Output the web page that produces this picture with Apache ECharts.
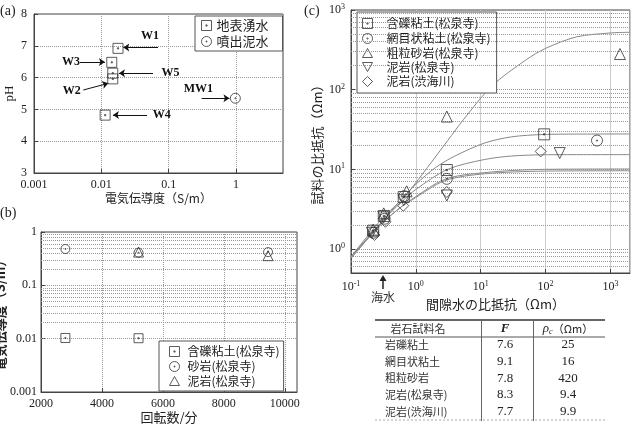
<!DOCTYPE html>
<html>
<head>
<meta charset="utf-8">
<script src="https://cdn.jsdelivr.net/npm/echarts@6/dist/echarts.min.js"></script>
<style>html,body{margin:0;padding:0;background:#fff}#main{width:633px;height:424px}</style>
</head>
<body>
<div id="main"></div>
<script>
// (a) 地表湧水 / 噴出泥水
var springNames = ['W1', 'W3', 'W5', 'W2', 'W4'];
var springEC = [0.0177, 0.0143, 0.0148, 0.0148, 0.0114];
var springPH = [6.92, 6.48, 6.14, 5.96, 4.82];
var mudEC = [0.98];
var mudPH = [5.35];

// (b) 回転数 vs 電気伝導度
var bClayRpm = [2800, 5200];
var bClayEC = [0.0103, 0.0102];
var bSandRpm = [2800, 5200, 9450];
var bSandEC = [0.48, 0.41, 0.42];
var bMudRpm = [5200, 9450];
var bMudEC = [0.42, 0.36];

// (c) 間隙水の比抵抗 vs 試料の比抵抗
var cClayX = [0.22, 0.32, 0.65, 3, 95];
var cClayY = [1.7, 2.6, 4.5, 9.8, 27.5];
var cNetX = [0.22, 0.33, 0.66, 3, 620];
var cNetY = [1.6, 2.4, 4.6, 7.6, 23];
var cSandX = [0.22, 0.32, 0.72, 3, 1400];
var cSandY = [1.75, 2.8, 5.3, 46, 280];
var cMudX = [0.21, 0.32, 0.65, 3, 165];
var cMudY = [1.6, 2.5, 4.1, 4.7, 16];
var cMud2X = [0.23, 0.34, 0.64, 3, 84];
var cMud2Y = [1.5, 2.2, 3.5, 5.2, 16.8];

// fitted curves
var fitSand = [[0.1,0.8],[0.3,2.4],[0.68,4.6],[1.5,10.5],[3.1,23],[5.4,42],[15,112],[50,237],[100,330],[300,460],[1000,515],[2000,525]];
var fitClay = [[0.1,0.76],[0.3,2.2],[0.6,4.2],[1,6.5],[2,10.5],[4,14.7],[11.5,21.4],[30,25.6],[94,27.4],[300,27.7],[2000,27.8]];
var fitNet = [[0.1,0.8],[0.3,2.2],[0.6,3.9],[1,5.6],[3.1,10],[11.5,13.3],[30,14.7],[81,15.2],[300,15.3],[2000,15.3]];
var fitMud = [[0.1,0.77],[0.3,2.1],[0.6,3.4],[0.86,4.2],[2.8,7.5],[11.5,9.1],[97,10],[2000,10.1]];
var fitMud2 = [[0.1,0.8],[0.3,2.1],[0.6,3.4],[0.86,4.1],[2.8,7.2],[11.5,8.8],[97,9.5],[2000,9.6]];

// table
var tableRows = ['岩礫粘土', '網目状粘土', '粗粒砂岩', '泥岩(松泉寺)', '泥岩(渋海川)'];
var tableF = ['7.6', '9.1', '7.8', '8.3', '7.7'];
var tableRhoC = ['25', '16', '420', '9.4', '9.9'];

var SERIF = 'Liberation Serif';
var CJK = 'Noto Sans CJK JP';
var SQ = 'path://M0,0L10,0L10,10L0,10Z M4.4,4.4L5.6,4.4L5.6,5.6L4.4,5.6Z';
var CI = 'path://M5,0A5,5 0 1 1 5,10A5,5 0 1 1 5,0Z M5,4.4A0.6,0.6 0 1 1 5,5.6A0.6,0.6 0 1 1 5,4.4Z';
var TU = 'path://M5,0L10,9L0,9Z';
var TD = 'path://M0,0L10,0L5,9Z';
var DI = 'path://M5,0L10,5L5,10L0,5Z';

function zip(xs, ys) { return xs.map(function (x, i) { return [x, ys[i]]; }); }
function minors(lo, hi) {
    var out = [];
    for (var d = lo; d < hi; d *= 10) for (var m = 2; m <= 9; m++) out.push({ yAxis: +(m * d).toPrecision(3) });
    return out;
}
var mkStyle = { color: 'none', borderColor: '#333', borderWidth: 1 };
var dotted = { type: 'dotted', color: '#999', width: 1 };

function pts(name, xi, sym, data, size) {
    return { type: 'scatter', name: name, xAxisIndex: xi, yAxisIndex: xi, symbol: sym, symbolSize: size || 10,
        data: data, itemStyle: mkStyle, z: 5 };
}
function fit(data) {
    return { type: 'line', xAxisIndex: 2, yAxisIndex: 2, data: data, smooth: 0.3, showSymbol: false, silent: true,
        lineStyle: { color: '#888', width: 1 }, z: 3 };
}
function gridLines(xi, lines) {
    return { type: 'line', xAxisIndex: xi, yAxisIndex: xi, data: [], silent: true,
        markLine: { silent: true, symbol: ['none', 'none'], label: { show: false }, animation: false,
            lineStyle: dotted, data: lines } };
}
function arrow(x1, y1, x2, y2) { return [{ coord: [x1, y1] }, { coord: [x2, y2] }]; }
function tag(name, x, y) { return { name: name, coord: [x, y] }; }

var axisLbl = { fontFamily: SERIF, fontSize: 12, color: '#222' };
var nameTxt = { fontFamily: CJK, fontSize: 12, color: '#222' };
var ax = { lineStyle: { color: '#444' } };
var tick = { inside: true, length: 4, lineStyle: { color: '#444' } };
function expFmt(v) { return '{b|10}{s|' + Math.round(Math.log10(v)) + '}'; }
var expRich = { b: { fontFamily: SERIF, fontSize: 12, color: '#222' }, s: { fontFamily: SERIF, fontSize: 8, color: '#222', verticalAlign: 'top', padding: [0, 0, 6, 0] } };

var legendBase = { orient: 'vertical', itemWidth: 10, itemHeight: 10, borderColor: '#555', borderWidth: 1,
    backgroundColor: '#fff', borderRadius: 0, itemStyle: mkStyle, selectedMode: false };

var tableG = [];
var ty = [345, 361.7, 378.3, 395, 411.7];
tableG.push({ type: 'line', shape: { x1: 375, y1: 320, x2: 605, y2: 320 }, style: { stroke: '#333', lineWidth: 1.5 } });
tableG.push({ type: 'line', shape: { x1: 375, y1: 337, x2: 605, y2: 337 }, style: { stroke: '#555', lineWidth: 1 } });
tableG.push({ type: 'line', shape: { x1: 375, y1: 420, x2: 605, y2: 420 }, style: { stroke: '#aaa', lineWidth: 1, lineDash: [2, 2] } });
tableG.push({ type: 'line', shape: { x1: 481.5, y1: 320, x2: 481.5, y2: 421 }, style: { stroke: '#666', lineWidth: 1 } });
tableG.push({ type: 'line', shape: { x1: 533.5, y1: 320, x2: 533.5, y2: 421 }, style: { stroke: '#666', lineWidth: 1 } });
tableG.push({ type: 'text', x: 418, y: 329, style: { text: '岩石試料名', font: '11px "Noto Sans CJK JP"', fill: '#333', align: 'center', verticalAlign: 'middle' } });
tableG.push({ type: 'text', x: 505, y: 329, style: { text: 'F', font: 'italic bold 13px "Liberation Serif"', fill: '#222', align: 'center', verticalAlign: 'middle' } });
tableG.push({ type: 'text', x: 568, y: 329, style: { text: '{i|ρ}{s|c}{t|（Ωm）}', align: 'center', verticalAlign: 'middle',
    rich: { i: { font: 'italic 13px "Liberation Serif"', fill: '#222' }, s: { font: 'italic 8px "Liberation Serif"', fill: '#222', verticalAlign: 'bottom', padding: [6, 0, 0, 0] }, t: { font: '11px "Noto Sans CJK JP"', fill: '#222' } } } });
tableRows.forEach(function (r, i) {
    tableG.push({ type: 'text', x: 385, y: ty[i], style: { text: r, font: '11px "Noto Sans CJK JP"', fill: '#333', align: 'left', verticalAlign: 'middle' } });
    tableG.push({ type: 'text', x: 505, y: ty[i], style: { text: tableF[i], font: '13px "Liberation Serif"', fill: '#222', align: 'center', verticalAlign: 'middle' } });
    tableG.push({ type: 'text', x: 568, y: ty[i], style: { text: tableRhoC[i], font: '13px "Liberation Serif"', fill: '#222', align: 'center', verticalAlign: 'middle' } });
});

var myChart = echarts.init(document.getElementById('main'));
var option = {
    backgroundColor: '#fff',
    animation: false,
    grid: [
        { left: 34, top: 14, width: 249, height: 159, show: true, borderColor: '#444', borderWidth: 1, outerBoundsMode: 'none' },
        { left: 41, top: 232, width: 256, height: 160, show: true, borderColor: '#444', borderWidth: 1, outerBoundsMode: 'none' },
        { left: 351, top: 10, width: 279, height: 263, show: true, borderColor: '#444', borderWidth: 1, outerBoundsMode: 'none' }
    ],
    xAxis: [
        { gridIndex: 0, type: 'log', min: 0.001, max: 5, axisLine: ax, axisTick: tick,
          axisLabel: Object.assign({ showMaxLabel: false, margin: 6, formatter: function (v) { return String(+v.toPrecision(1)); } }, axisLbl),
          splitLine: { show: true, lineStyle: dotted },
          name: '電気伝導度（S/m）', nameLocation: 'middle', nameGap: 19, nameTextStyle: nameTxt },
        { gridIndex: 1, type: 'value', min: 2000, max: 10400, interval: 2000, axisLine: ax, axisTick: tick,
          axisLabel: Object.assign({ showMaxLabel: false, margin: 6, formatter: function (v) { return String(v); } }, axisLbl),
          splitLine: { show: true, lineStyle: dotted },
          name: '回転数/分', nameLocation: 'middle', nameGap: 16, nameTextStyle: Object.assign({}, nameTxt, { fontSize: 13 }) },
        { gridIndex: 2, type: 'log', min: 0.1, max: 2000, axisLine: ax, axisTick: tick,
          axisLabel: { showMaxLabel: false, margin: 7, formatter: expFmt, rich: expRich },
          splitLine: { show: true, lineStyle: { color: '#ccc', width: 1 } },
          name: '間隙水の比抵抗（Ωm）', nameLocation: 'middle', nameGap: 22, nameTextStyle: Object.assign({}, nameTxt, { fontSize: 13, padding: [0, 0, 0, 10] }) }
    ],
    yAxis: [
        { gridIndex: 0, type: 'value', min: 3, max: 8, interval: 1, axisLine: ax, axisTick: tick,
          axisLabel: Object.assign({ margin: 7 }, axisLbl), splitLine: { show: true, lineStyle: dotted },
          name: 'pH', nameLocation: 'middle', nameGap: 18, nameTextStyle: { fontFamily: SERIF, fontSize: 13, color: '#222' } },
        { gridIndex: 1, type: 'log', min: 0.001, max: 1, axisLine: ax, axisTick: tick,
          axisLabel: Object.assign({ margin: 4, formatter: function (v) { return String(+v.toPrecision(1)); } }, axisLbl),
          splitLine: { show: true, lineStyle: dotted },
          name: '電気伝導度（S/m）', nameLocation: 'middle', nameGap: 25, nameTextStyle: Object.assign({}, nameTxt, { fontSize: 13, fontWeight: 'bold' }) },
        { gridIndex: 2, type: 'log', min: 0.5, max: 1000, axisLine: ax, axisTick: tick,
          axisLabel: { showMinLabel: false, margin: 6, formatter: expFmt, rich: expRich },
          splitLine: { show: true, lineStyle: dotted },
          name: '試料の比抵抗（Ωm）', nameLocation: 'middle', nameGap: 27, nameTextStyle: Object.assign({}, nameTxt, { fontSize: 13 }) }
    ],
    legend: [
        Object.assign({}, legendBase, { left: 195, top: 16, padding: [2, 14, 2, 4], itemGap: 1,
            textStyle: { fontFamily: CJK, fontSize: 13, lineHeight: 15, color: '#222' },
            data: [{ name: '地表湧水', icon: SQ }, { name: '噴出泥水', icon: CI }] }),
        Object.assign({}, legendBase, { left: 159, top: 341, padding: [3, 4, 3, 8], itemGap: 0,
            textStyle: { fontFamily: CJK, fontSize: 12, lineHeight: 14, color: '#222', padding: [0, 0, 0, 3] },
            data: [{ name: '含礫粘土(松泉寺)', icon: SQ }, { name: '砂岩(松泉寺)', icon: CI }, { name: '泥岩(松泉寺)', icon: TU }] }),
        Object.assign({}, legendBase, { left: 357, top: 12, padding: [4, 6, 4, 3], itemGap: 0,
            textStyle: { fontFamily: CJK, fontSize: 12, lineHeight: 14, color: '#222', padding: [0, 0, 0, 9] },
            data: [{ name: '含礫粘土(松泉寺)', icon: SQ }, { name: '網目状粘土(松泉寺)', icon: CI }, { name: '粗粒砂岩(松泉寺)', icon: TU },
                   { name: '泥岩(松泉寺)', icon: TD }, { name: '泥岩(渋海川)', icon: DI }] })
    ],
    graphic: [
        { type: 'text', left: 0, top: 4, style: { text: '(a)', font: '14px "Liberation Serif"', fill: '#222' } },
        { type: 'text', left: 0, top: 206, style: { text: '(b)', font: '14px "Liberation Serif"', fill: '#222' } },
        { type: 'text', left: 304, top: 4, style: { text: '(c)', font: '14px "Liberation Serif"', fill: '#222' } },
        { type: 'line', shape: { x1: 383, y1: 289, x2: 383, y2: 279 }, style: { stroke: '#222', lineWidth: 1.5 } },
        { type: 'polygon', shape: { points: [[379.5, 281], [386.5, 281], [383, 275]] }, style: { fill: '#222' } },
        { type: 'text', x: 383, y: 297, style: { text: '海水', font: '12px "Noto Sans CJK JP"', fill: '#333', align: 'center', verticalAlign: 'middle' } },
        { type: 'group', children: tableG }
    ],
    series: [
        Object.assign(pts('地表湧水', 0, SQ, zip(springEC, springPH), 10), {
            markLine: { silent: true, symbol: ['none', 'arrow'], symbolSize: 6, animation: false, label: { show: false },
                lineStyle: { color: '#111', width: 1, type: 'solid' },
                data: [arrow(0.0696, 6.95, 0.0212, 6.95), arrow(0.00483, 6.49, 0.0113, 6.49), arrow(0.0586, 6.14, 0.0183, 6.14),
                       arrow(0.0054, 5.61, 0.0127, 5.82), arrow(0.0478, 4.82, 0.0149, 4.82)] },
            markPoint: { silent: true, symbol: 'circle', symbolSize: 1, itemStyle: { color: 'rgba(0,0,0,0)' },
                label: { show: true, position: 'inside', formatter: '{b}', fontFamily: SERIF, fontWeight: 'bold', fontSize: 12, color: '#111' },
                data: [tag(springNames[0], 0.053, 7.31), tag(springNames[1], 0.00355, 6.49), tag(springNames[2], 0.107, 6.14),
                       tag(springNames[3], 0.00363, 5.58), tag(springNames[4], 0.0789, 4.82)] } }),
        Object.assign(pts('噴出泥水', 0, CI, zip(mudEC, mudPH), 10), {
            markLine: { silent: true, symbol: ['none', 'arrow'], symbolSize: 6, animation: false, label: { show: false },
                lineStyle: { color: '#111', width: 1, type: 'solid' }, data: [arrow(0.31, 5.35, 0.8, 5.35)] },
            markPoint: { silent: true, symbol: 'circle', symbolSize: 1, itemStyle: { color: 'rgba(0,0,0,0)' },
                label: { show: true, position: 'inside', formatter: '{b}', fontFamily: SERIF, fontWeight: 'bold', fontSize: 12, color: '#111' },
                data: [tag('MW1', 0.276, 5.66)] } }),

        gridLines(1, minors(0.001, 1)),
        pts('含礫粘土(松泉寺)', 1, SQ, zip(bClayRpm, bClayEC), 9),
        pts('砂岩(松泉寺)', 1, CI, zip(bSandRpm, bSandEC), 9),
        pts('泥岩(松泉寺)', 1, TU, zip(bMudRpm, bMudEC), 10),

        gridLines(2, minors(0.1, 1000).filter(function (d) { return d.yAxis > 0.5; })),
        fit(fitSand), fit(fitClay), fit(fitNet), fit(fitMud), fit(fitMud2),
        pts('含礫粘土(松泉寺)', 2, SQ, zip(cClayX, cClayY), 11),
        pts('網目状粘土(松泉寺)', 2, CI, zip(cNetX, cNetY), 11),
        pts('粗粒砂岩(松泉寺)', 2, TU, zip(cSandX, cSandY), 11),
        pts('泥岩(松泉寺)', 2, TD, zip(cMudX, cMudY), 11),
        pts('泥岩(渋海川)', 2, DI, zip(cMud2X, cMud2Y), 11)
    ]
};
myChart.setOption(option);
</script>
</body>
</html>
